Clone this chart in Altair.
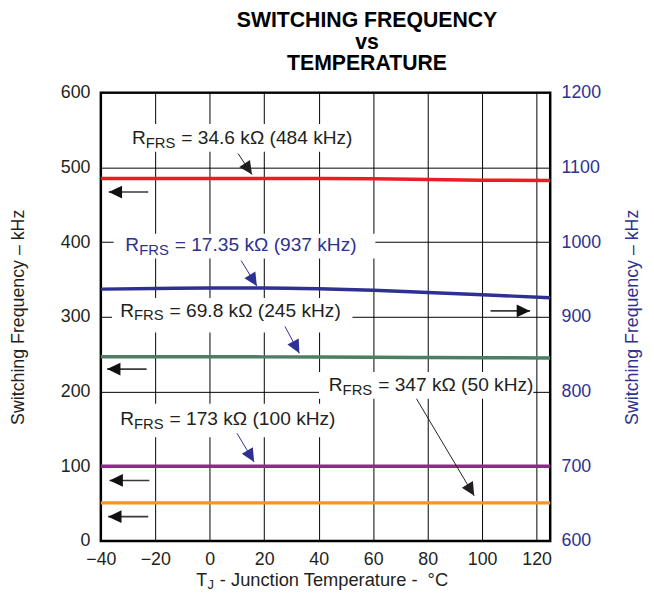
import math
import altair as alt
import pandas as pd

# ---------------- data ----------------
temps = [-40, -20, 0, 20, 40, 60, 80, 100, 125]
f_484 = [485.0, 485.0, 485.0, 485.0, 485.0, 484.8, 483.8, 482.8, 482.5]
f_937 = [937.0, 938.0, 938.5, 938.5, 937.5, 935.5, 932.5, 929.5, 925.5]   # right axis
f_245 = [246.5, 246.5, 246.5, 246.4, 246.3, 246.0, 245.5, 245.2, 245.0]
f_100 = [100.0, 100.0, 100.0, 100.0, 100.0, 100.0, 100.0, 100.0, 100.0]
f_50 = [51.0, 51.0, 51.0, 51.0, 51.0, 51.0, 51.0, 51.0, 51.0]

left_series = ["484 kHz", "245 kHz", "100 kHz", "50 kHz"]
left_values = [f_484, f_245, f_100, f_50]
left_colors = ["#ED1C24", "#4D7D65", "#92278F", "#F7941E"]
BLUE = "#2E3192"
DARK = "#231F20"
NB = "\u00a0"

# annotation labels (left-axis data coordinates)
label_x = [-28.6, -31.0, -32.9, -32.9, 43.7]
label_y = [531.7, 388.5, 300.4, 155.0, 200.5]
label_rest = ["= 34.6 kΩ (484 kHz)", "= 17.35 kΩ (937 kHz)", "= 69.8 kΩ (245 kHz)",
              "= 173 kΩ (100 kHz)", "= 347 kΩ (50 kHz)"]
label_color = [DARK, BLUE, DARK, DARK, DARK]

# white boxes behind the labels (they interrupt the grid)
box_x1 = [-31.7, -35.3, -35.9, -35.3, 40.1]
box_x2 = [53.9, 60.8, 52.4, 48.1, 118.8]
box_y1 = [520.7, 378.0, 278.9, 138.8, 190.3]
box_y2 = [558.1, 411.0, 325.1, 183.7, 226.0]

# pointer arrows from the labels to the curves
ptr_x1 = [10.4, 11.5, 27.6, 10.0, 75.9]
ptr_y1 = [518.4, 375.3, 287.2, 144.1, 190.3]
ptr_x2 = [15.5, 17.3, 32.9, 16.3, 97.1]
ptr_y2 = [490.3, 341.0, 251.1, 105.7, 60.4]
ptr_color = [DARK, BLUE, BLUE, BLUE, DARK]

# horizontal axis-indicator arrows
arr_x1 = [-22.6, -23.2, -22.2, -22.6, 103.1]
arr_x2 = [-37.1, -37.7, -36.8, -37.3, 117.6]
arr_y = [466.9, 230.0, 81.0, 32.6, 307.9]

xtitle_parts = ["T", "J", "-" + NB + "Junction Temperature" + NB + "-" + NB + NB + "°C"]
ytitle = "Switching Frequency – kHz"
title_lines = ["SWITCHING FREQUENCY", "vs", "TEMPERATURE"]

# ---------------- layout ----------------
W, H = 455, 454
XMIN, XMAX = -40, 125
YMIN, YMAX = 0, 600
FONT = "Liberation Sans"
LFS = 19.4

xscale = alt.Scale(domain=[XMIN, XMAX], nice=False, zero=False)
yscale = alt.Scale(domain=[YMIN, YMAX], nice=False, zero=False)
xaxis = alt.Axis(values=list(range(-40, 121, 20)), grid=True, gridColor="#000000", gridWidth=1,
                 ticks=False, domain=False, labelFontSize=18, labelColor=DARK, labelPadding=10,
                 labelFlush=False, title=None)
yaxis = alt.Axis(values=list(range(0, 601, 100)), grid=True, gridColor="#000000", gridWidth=1,
                 ticks=False, domain=False, labelFontSize=18, labelColor=DARK, labelPadding=11,
                 labelFlush=False, format="d", title=ytitle, titleFontSize=18, titleFontWeight="normal",
                 titleColor=DARK, titlePadding=33)


def X(field):
    return alt.X(field, type="quantitative", scale=xscale, axis=xaxis)


def Y(field):
    return alt.Y(field, type="quantitative", scale=yscale, axis=yaxis)


# lines
rows = []
for name, vals in zip(left_series, left_values):
    for t, v in zip(temps, vals):
        rows.append({"T": t, "f": v, "s": name})
lines_df = pd.DataFrame(rows)
lines = alt.Chart(lines_df).mark_line(strokeWidth=3.5, interpolate="monotone").encode(
    x=X("T"), y=Y("f"),
    color=alt.Color("s:N", scale=alt.Scale(domain=left_series, range=left_colors), legend=None),
)

boxes_df = pd.DataFrame({"x1": box_x1, "x2": box_x2, "y1": box_y1, "y2": box_y2})
boxes = alt.Chart(boxes_df).mark_rect(fill="white").encode(
    x=X("x1"), x2="x2", y=Y("y1"), y2="y2")

ptr_df = pd.DataFrame({"x1": ptr_x1, "y1": ptr_y1, "x2": ptr_x2, "y2": ptr_y2, "c": ptr_color})
pointers = alt.Chart(ptr_df).mark_rule(strokeWidth=1).encode(
    x=X("x1"), y=Y("y1"), x2="x2", y2="y2", color=alt.Color("c:N", scale=None))

arr_df = pd.DataFrame({"x1": arr_x1, "x2": arr_x2, "y": arr_y})
shafts = alt.Chart(arr_df).mark_rule(strokeWidth=1.6, color="#3a3a3a").encode(
    x=X("x1"), x2="x2", y=Y("y"))


def head_angle(x1, y1, x2, y2):
    dxp = (x2 - x1) * W / (XMAX - XMIN)
    dyp = -(y2 - y1) * H / (YMAX - YMIN)
    return math.degrees(math.atan2(-dyp, -dxp)) % 360


heads_rows = []
for a, b, c, d, col in zip(ptr_x1, ptr_y1, ptr_x2, ptr_y2, ptr_color):
    heads_rows.append({"x": c, "y": d, "ang": head_angle(a, b, c, d), "c": col})
for a, c, yy in zip(arr_x1, arr_x2, arr_y):
    heads_rows.append({"x": c, "y": yy, "ang": head_angle(a, yy, c, yy), "c": "#111111"})
heads_df = pd.DataFrame(heads_rows)
heads = alt.Chart(heads_df).mark_point(
    shape="M0,0L1,-0.48L1,0.48Z", size=729, filled=True, opacity=1, strokeWidth=0
).encode(x=X("x"), y=Y("y"), angle=alt.Angle("ang:Q", scale=None),
         color=alt.Color("c:N", scale=None))

lab_df = pd.DataFrame({"x": label_x, "y": label_y, "rest": label_rest, "c": label_color,
                       "r": ["R"] * 5, "sub": ["FRS"] * 5})
lab_r = alt.Chart(lab_df).mark_text(align="left", baseline="alphabetic", fontSize=LFS, font=FONT).encode(
    x=X("x"), y=Y("y"), text="r:N", color=alt.Color("c:N", scale=None))
lab_sub = alt.Chart(lab_df).mark_text(align="left", baseline="alphabetic", fontSize=15, font=FONT,
                                       dx=14.0, dy=4).encode(
    x=X("x"), y=Y("y"), text="sub:N", color=alt.Color("c:N", scale=None))
lab_rest = alt.Chart(lab_df).mark_text(align="left", baseline="alphabetic", fontSize=LFS, font=FONT,
                                        dx=50.0).encode(
    x=X("x"), y=Y("y"), text="rest:N", color=alt.Color("c:N", scale=None))

# x-axis title with subscript J
xt0 = W / 2 - 131
xt_T = alt.Chart(pd.DataFrame({"t": [xtitle_parts[0]]})).mark_text(
    align="left", baseline="alphabetic", fontSize=18, font=FONT, color=DARK).encode(
    x=alt.value(xt0), y=alt.value(H + 46), text="t:N")
xt_J = alt.Chart(pd.DataFrame({"t": [xtitle_parts[1]]})).mark_text(
    align="left", baseline="alphabetic", fontSize=13, font=FONT, color=DARK).encode(
    x=alt.value(xt0 + 11.5), y=alt.value(H + 49), text="t:N")
xt_rest = alt.Chart(pd.DataFrame({"t": [xtitle_parts[2]]})).mark_text(
    align="left", baseline="alphabetic", fontSize=18.5, font=FONT, color=DARK).encode(
    x=alt.value(xt0 + 24), y=alt.value(H + 46), text="t:N")

left = alt.layer(boxes, lines, pointers, shafts, heads, lab_r, lab_sub, lab_rest, xt_T, xt_J, xt_rest)

# right-axis series (blue)
blue_df = pd.DataFrame({"T": temps, "f": f_937})
right = alt.Chart(blue_df).mark_line(strokeWidth=3.5, color=BLUE, interpolate="monotone").encode(
    x=X("T"),
    y=alt.Y("f:Q", scale=alt.Scale(domain=[600, 1200], nice=False, zero=False),
            axis=alt.Axis(orient="right", values=list(range(600, 1201, 100)), grid=False, ticks=False,
                          domain=False, labelFontSize=18, labelColor=BLUE, labelPadding=11,
                          labelFlush=False, format="d", title=ytitle, titleColor=BLUE, titleFontSize=18,
                          titleFontWeight="normal", titleAngle=270, titleBaseline="top",
                          titlePadding=23)),
)

chart = alt.layer(left, right).resolve_scale(y="independent").properties(
    width=W, height=H,
    autosize=alt.AutoSizeParams(type="none"),
    padding={"left": 94, "top": 82, "right": 97, "bottom": 50},
    title=alt.TitleParams(text=title_lines, font=FONT, fontSize=21.5, fontWeight="bold", color="#000000",
                          lineHeight=22, anchor="middle", frame="group", dx=42, offset=9),
).configure(font=FONT).configure_view(stroke="#000000", strokeWidth=2.5)

chart.save("out.html", embed_options={"renderer": "svg", "actions": False})
